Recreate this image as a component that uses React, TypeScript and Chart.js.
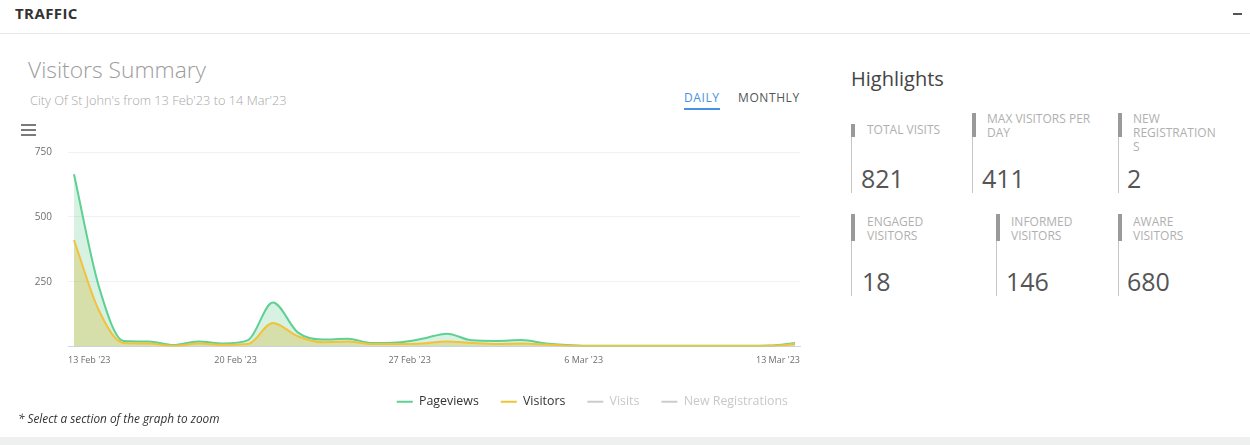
import React, { useEffect, useRef } from "react";
import { Chart, registerables } from "chart.js";

Chart.register(...registerables);

// ---- data ----
const days = [
  "13 Feb", "14 Feb", "15 Feb", "16 Feb", "17 Feb", "18 Feb", "19 Feb", "20 Feb",
  "21 Feb", "22 Feb", "23 Feb", "24 Feb", "25 Feb", "26 Feb", "27 Feb", "28 Feb",
  "1 Mar", "2 Mar", "3 Mar", "4 Mar", "5 Mar", "6 Mar", "7 Mar", "8 Mar",
  "9 Mar", "10 Mar", "11 Mar", "12 Mar", "13 Mar", "14 Mar",
];
const pageviews = [
  664, 232, 22, 20, 6, 20, 12, 25, 170, 55, 27, 30, 14, 16, 30,
  50, 24, 22, 25, 12, 5, 3, 3, 3, 3, 3, 3, 3, 4, 14,
];
const visitors = [
  411, 140, 14, 12, 3, 12, 7, 10, 91, 40, 17, 20, 10, 10, 12,
  20, 14, 10, 12, 8, 3, 2, 2, 2, 2, 2, 2, 2, 3, 10,
];
// hidden series in the reference (legend only)
const visits: number[] = [];
const newRegistrations: number[] = [];
const seriesNames = ["Pageviews", "Visitors", "Visits", "New Registrations"];

const tickLabels = ["13 Feb '23", "20 Feb '23", "27 Feb '23", "6 Mar '23", "13 Mar '23"];
const tickDayIndex = [0, 7, 14, 21, 28];
const yTickValues = [0, 250, 500, 750];

const highlightLabels = [
  "TOTAL VISITS", "MAX VISITORS PER DAY", "NEW REGISTRATIONS",
  "ENGAGED VISITORS", "INFORMED VISITORS", "AWARE VISITORS",
];
const highlightValues = ["821", "411", "2", "18", "146", "680"];

// ---- layout for highlight tiles ----
const hlLayout = [
  { x: 851, thickTop: 124, thickBottom: 137, lineBottom: 193, labelLeft: 867, labelTop: 123, labelWidth: 110, valueLeft: 861, valueTop: 163 },
  { x: 972, thickTop: 113, thickBottom: 137, lineBottom: 193, labelLeft: 987, labelTop: 112, labelWidth: 112, valueLeft: 982, valueTop: 163 },
  { x: 1118, thickTop: 113, thickBottom: 137, lineBottom: 193, labelLeft: 1133, labelTop: 112, labelWidth: 86, valueLeft: 1127, valueTop: 163 },
  { x: 851, thickTop: 214, thickBottom: 241, lineBottom: 296, labelLeft: 867, labelTop: 215, labelWidth: 80, valueLeft: 862, valueTop: 266 },
  { x: 996, thickTop: 214, thickBottom: 241, lineBottom: 296, labelLeft: 1011, labelTop: 215, labelWidth: 80, valueLeft: 1006, valueTop: 266 },
  { x: 1118, thickTop: 214, thickBottom: 241, lineBottom: 296, labelLeft: 1133, labelTop: 215, labelWidth: 80, valueLeft: 1127, valueTop: 266 },
];

const FONT = "'Open Sans', 'DejaVu Sans', sans-serif";
const GREEN = "#5fd093";
const YELLOW = "#f2c238";

// keeps the right-aligned legend on a single row despite float rounding
const legendSlack = {
  id: "legendSlack",
  beforeDraw(c: any) {
    const lg = c.legend;
    if (lg && Array.isArray(lg.lineWidths)) lg.lineWidths = lg.lineWidths.map((w: number) => w + 0.02);
  },
};

function TrafficChart() {
  const ref = useRef<HTMLCanvasElement | null>(null);
  useEffect(() => {
    if (!ref.current) return;
    const X_MIN = -0.24;
    const X_MAX = 29.2;
    const legendColors = [GREEN, YELLOW, "#cccccc", "#cccccc"];
    const chart = new Chart(ref.current, {
      type: "line",
      data: {
        datasets: [
          {
            label: seriesNames[0],
            data: pageviews.map((v, i) => ({ x: i, y: v })),
            borderColor: GREEN,
            backgroundColor: "rgba(95,205,145,0.25)",
            fill: "origin",
            borderWidth: 2,
            pointRadius: 0,
            cubicInterpolationMode: "monotone",
            order: 1,
          },
          {
            label: seriesNames[1],
            data: visitors.map((v, i) => ({ x: i, y: v })),
            borderColor: YELLOW,
            backgroundColor: "rgba(212,192,85,0.4)",
            fill: "origin",
            borderWidth: 2,
            pointRadius: 0,
            cubicInterpolationMode: "monotone",
            order: 0,
          },
          {
            label: seriesNames[2],
            data: visits.map((v, i) => ({ x: i, y: v })),
            borderColor: "#cccccc",
            hidden: true,
            pointRadius: 0,
          },
          {
            label: seriesNames[3],
            data: newRegistrations.map((v, i) => ({ x: i, y: v })),
            borderColor: "#cccccc",
            hidden: true,
            pointRadius: 0,
          },
        ],
      },
      options: {
        animation: false,
        responsive: true,
        maintainAspectRatio: false,
        events: [],
        layout: { padding: { top: 12, right: 5, bottom: 0, left: 0 } },
        font: { family: FONT },
        scales: {
          x: {
            type: "linear",
            min: X_MIN,
            max: X_MAX,
            grid: { display: false, drawTicks: false },
            border: { display: true, color: "#ccd6eb", width: 1 },
            afterBuildTicks: (scale: any) => {
              scale.ticks = tickDayIndex.map((d, i) => ({
                value: i === tickDayIndex.length - 1 ? X_MAX : Math.max(X_MIN, d - 0.5),
              }));
            },
            afterFit: (scale: any) => {
              scale.height = 27;
            },
            ticks: {
              autoSkip: false,
              maxRotation: 0,
              align: "inner",
              padding: 8,
              color: "#6e6e6e",
              font: { family: FONT, size: 9 },
              callback: (_v: any, i: number) => tickLabels[i],
            },
          },
          y: {
            min: 0,
            max: 750,
            grid: {
              drawTicks: false,
              color: (ctx: any) => (ctx.tick && ctx.tick.value === 0 ? "rgba(0,0,0,0)" : "#f1f1f1"),
            },
            border: { display: false },
            afterBuildTicks: (scale: any) => {
              scale.ticks = yTickValues.map((v) => ({ value: v }));
            },
            afterFit: (scale: any) => {
              scale.width = 68;
            },
            ticks: {
              padding: 16,
              color: "#6e6e6e",
              font: { family: FONT, size: 10 },
              callback: (v: any) => (v === 0 ? "" : String(v)),
            },
          },
          yRight: {
            type: "linear",
            position: "right",
            display: true,
            grid: { display: false, drawTicks: false },
            border: { display: false },
            ticks: { display: false },
            afterFit: (scale: any) => {
              scale.width = 10;
            },
          },
        },
        plugins: {
          tooltip: { enabled: false },
          legend: {
            position: "bottom",
            align: "end",
            onClick: () => {},
            labels: {
              usePointStyle: true,
              pointStyleWidth: 16,
              padding: 22,
              font: { family: FONT, size: 12.4 },
              generateLabels: (c: any) =>
                c.data.datasets.map((ds: any, i: number) => ({
                  text: ds.label,
                  fillStyle: legendColors[i],
                  strokeStyle: legendColors[i],
                  lineWidth: 2,
                  pointStyle: "line",
                  hidden: false,
                  fontColor: ds.hidden ? "#c8c8c8" : "#333333",
                  datasetIndex: i,
                })),
            },
          },
        },
      } as any,
      plugins: [legendSlack],
    });
    return () => chart.destroy();
  }, []);
  return (
    <div style={{ position: "absolute", left: 0, top: 130, width: 815, height: 288 }}>
      <canvas ref={ref} />
    </div>
  );
}

export default function App() {
  const abs = (s: React.CSSProperties): React.CSSProperties => ({ position: "absolute", ...s });
  return (
    <div
      style={{
        position: "absolute",
        left: 0,
        top: 0,
        width: 1250,
        height: 445,
        background: "#ffffff",
        fontFamily: FONT,
        overflow: "hidden",
      }}
    >
      {/* panel header */}
      <div style={abs({ left: 15, top: 4, fontSize: 15, fontWeight: 700, color: "#333", lineHeight: "18px", letterSpacing: 0.4 })}>
        TRAFFIC
      </div>
      <div style={abs({ left: 1233, top: 13, width: 9, height: 2, background: "#555" })} />
      <div style={abs({ left: 0, top: 33, width: 1250, height: 1, background: "#e6e6e6" })} />

      {/* chart titles */}
      <div style={abs({ left: 28, top: 55, fontSize: 22.8, fontWeight: 300, color: "#9c9c9c", lineHeight: "30px", whiteSpace: "nowrap" })}>
        Visitors Summary
      </div>
      <div style={abs({ left: 30, top: 92, fontSize: 12.8, fontWeight: 300, color: "#a8a8a8", lineHeight: "16px", whiteSpace: "nowrap" })}>
        City Of St John's from 13 Feb'23 to 14 Mar'23
      </div>
      <div style={abs({ left: 684, top: 91, fontSize: 12, fontWeight: 500, color: "#4a90e2", lineHeight: "14px", letterSpacing: 0.6 })}>
        DAILY
      </div>
      <div style={abs({ left: 684, top: 108, width: 36, height: 2, background: "#4a90e2" })} />
      <div style={abs({ left: 738, top: 91, fontSize: 12, fontWeight: 500, color: "#555", lineHeight: "14px", letterSpacing: 0.6 })}>
        MONTHLY
      </div>

      <TrafficChart />

      {/* hamburger menu */}
      {[124, 129, 134].map((t) => (
        <div key={t} style={abs({ left: 21, top: t, width: 15, height: 2, background: "#7a7a7a" })} />
      ))}

      <div style={abs({ left: 18, top: 410, fontSize: 11.8, fontStyle: "italic", color: "#333", lineHeight: "16px", whiteSpace: "nowrap" })}>
        * Select a section of the graph to zoom
      </div>
      <div style={abs({ left: 0, top: 437, width: 1250, height: 8, background: "#eef0f0" })} />

      {/* highlights */}
      <div style={abs({ left: 851, top: 66, fontSize: 20, color: "#444", lineHeight: "26px" })}>Highlights</div>
      {hlLayout.map((l, i) => (
        <React.Fragment key={i}>
          <div style={abs({ left: l.x, top: l.thickTop, width: 1, height: l.lineBottom - l.thickTop, background: "#c6c6c6" })} />
          <div style={abs({ left: l.x, top: l.thickTop, width: 4, height: l.thickBottom - l.thickTop, background: "#9a9a9a" })} />
          <div
            style={abs({
              left: l.labelLeft,
              top: l.labelTop,
              width: l.labelWidth,
              fontSize: 12,
              color: "#b0b0b0",
              lineHeight: "14px",
              overflowWrap: "anywhere",
            })}
          >
            {highlightLabels[i]}
          </div>
          <div style={abs({ left: l.valueLeft, top: l.valueTop, fontSize: 25, color: "#555", lineHeight: "30px" })}>
            {highlightValues[i]}
          </div>
        </React.Fragment>
      ))}
    </div>
  );
}
